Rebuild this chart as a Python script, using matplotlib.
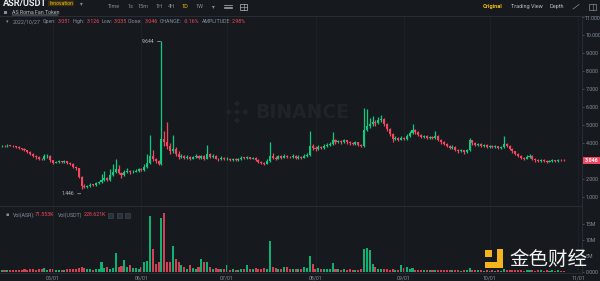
import numpy as np
import pandas as pd
import matplotlib
matplotlib.use('Agg')
import matplotlib.pyplot as plt
import matplotlib.dates as mdates
from matplotlib.patches import Rectangle, Polygon, FancyBboxPatch

# ---------------- data ----------------
start_date = '2022-04-13'
first_open = 3.84
closes = [3.86, 3.84, 3.87, 3.85, 3.83, 3.80, 3.72, 3.68, 3.60, 3.50,
          3.40, 3.30, 3.22, 3.15, 3.12, 3.28, 3.30, 3.05, 2.92, 2.95,
          3.00, 2.96, 3.00, 2.90, 2.85, 2.70, 2.60, 2.15, 1.60, 1.55,
          1.62, 1.70, 1.68, 1.80, 1.85, 1.95, 2.05, 1.95, 2.25, 2.40,
          2.55, 2.35, 2.25, 2.40, 2.45, 2.38, 2.42, 2.48, 2.55, 2.50,
          2.70, 2.90, 3.30, 3.10, 3.00, 2.85, 4.25, 4.05, 3.85, 3.55,
          3.70, 3.40, 3.25, 3.30, 3.20, 3.25, 3.15, 3.22, 3.30, 3.20,
          3.28, 3.15, 3.40, 3.25, 3.30, 3.15, 3.10, 3.20, 3.10, 3.15,
          3.08, 3.12, 3.05, 3.10, 3.20, 3.18, 3.22, 3.15, 3.18, 3.05,
          2.98, 2.90, 2.85, 3.00, 3.30, 3.20, 3.15, 3.28, 3.20, 3.30,
          3.25, 3.22, 3.30, 3.18, 3.25, 3.20, 3.30, 3.35, 3.85, 3.75,
          3.70, 3.80, 3.75, 3.85, 3.90, 3.95, 4.15, 4.05, 4.10, 4.05,
          4.15, 4.05, 4.00, 3.95, 4.05, 3.90, 3.85, 4.75, 4.95, 5.05,
          5.20, 5.10, 5.30, 5.35, 5.05, 4.80, 4.50, 4.25, 4.30, 4.20,
          4.30, 4.25, 4.40, 4.55, 4.75, 4.60, 4.45, 4.35, 4.40, 4.30,
          4.35, 4.30, 4.40, 4.20, 4.05, 3.95, 3.85, 3.75, 3.80, 3.65,
          3.55, 3.60, 3.50, 3.62, 4.15, 4.00, 3.90, 3.95, 3.85, 3.90,
          3.80, 3.85, 3.78, 3.82, 3.75, 3.80, 3.95, 3.85, 3.70, 3.55,
          3.40, 3.30, 3.20, 3.15, 3.25, 3.30, 3.15, 3.05, 3.00, 3.08,
          3.00, 2.98, 3.02, 3.05, 3.02, 3.06, 3.051, 3.046]
highs = [3.92, 3.90, 3.93, 3.91, 3.89, 3.87, 3.84, 3.76, 3.71, 3.64,
         3.55, 3.45, 3.36, 3.27, 3.20, 3.42, 3.38, 3.34, 3.08, 3.02,
         3.06, 3.04, 3.05, 3.03, 2.94, 2.88, 2.75, 2.63, 2.20, 1.72,
         1.70, 1.78, 1.76, 1.86, 1.92, 2.30, 2.45, 2.12, 2.55, 2.85,
         3.10, 2.80, 2.42, 2.50, 2.60, 2.52, 2.50, 2.55, 2.62, 2.60,
         2.85, 3.40, 4.45, 3.65, 3.20, 3.08, 9.644, 4.70, 5.20, 4.00,
         4.45, 3.78, 3.55, 3.40, 3.36, 3.34, 3.30, 3.30, 3.38, 3.35,
         3.36, 3.32, 3.90, 3.48, 3.38, 3.34, 3.20, 3.28, 3.24, 3.22,
         3.18, 3.18, 3.16, 3.16, 3.30, 3.26, 3.30, 3.26, 3.24, 3.22,
         3.10, 3.02, 2.95, 3.10, 4.07, 3.45, 3.28, 3.36, 3.32, 3.38,
         3.36, 3.30, 3.38, 3.34, 3.32, 3.30, 3.40, 3.45, 4.70, 3.95,
         3.82, 3.88, 3.85, 3.95, 4.00, 4.05, 4.60, 4.22, 4.20, 4.15,
         4.25, 4.20, 4.10, 4.05, 4.12, 4.08, 3.95, 5.95, 5.90, 5.40,
         5.50, 5.30, 5.45, 5.55, 5.40, 5.10, 4.85, 4.55, 4.40, 4.35,
         4.38, 4.35, 4.50, 4.65, 5.05, 4.80, 4.65, 4.50, 4.48, 4.45,
         4.42, 4.40, 4.70, 4.45, 4.25, 4.10, 4.00, 3.90, 3.88, 3.85,
         3.70, 3.68, 3.65, 3.70, 4.30, 4.20, 4.05, 4.02, 4.00, 3.96,
         3.94, 3.92, 3.88, 3.88, 3.85, 3.86, 4.40, 4.00, 3.88, 3.72,
         3.58, 3.45, 3.34, 3.25, 3.32, 3.38, 3.34, 3.20, 3.10, 3.15,
         3.12, 3.05, 3.08, 3.12, 3.08, 3.12, 3.10, 3.126]
lows = [3.80, 3.80, 3.81, 3.82, 3.79, 3.76, 3.68, 3.62, 3.55, 3.44,
        3.35, 3.22, 3.15, 3.08, 3.05, 3.08, 3.20, 2.98, 2.85, 2.88,
        2.90, 2.90, 2.92, 2.85, 2.78, 2.62, 2.52, 2.05, 1.446, 1.50,
        1.50, 1.58, 1.62, 1.65, 1.75, 1.82, 1.90, 1.88, 1.92, 2.20,
        2.35, 2.28, 2.05, 2.20, 2.35, 2.30, 2.32, 2.38, 2.42, 2.44,
        2.48, 2.65, 2.85, 3.00, 2.90, 2.78, 2.80, 3.85, 3.70, 3.40,
        3.45, 3.30, 3.15, 3.18, 3.10, 3.14, 3.08, 3.10, 3.18, 3.12,
        3.15, 3.08, 3.12, 3.18, 3.20, 3.10, 3.04, 3.06, 3.05, 3.06,
        3.02, 3.04, 3.00, 3.02, 3.06, 3.12, 3.14, 3.10, 3.10, 3.00,
        2.92, 2.85, 2.78, 2.82, 2.96, 3.12, 3.08, 3.12, 3.14, 3.16,
        3.18, 3.16, 3.18, 3.12, 3.14, 3.14, 3.16, 3.24, 3.30, 3.60,
        3.58, 3.65, 3.68, 3.70, 3.80, 3.85, 3.90, 3.98, 4.00, 3.98,
        4.00, 3.98, 3.92, 3.88, 3.90, 3.82, 3.78, 3.80, 4.65, 4.85,
        4.98, 4.95, 5.05, 5.15, 4.95, 4.70, 4.40, 4.05, 4.15, 4.12,
        4.15, 4.18, 4.20, 4.35, 4.50, 4.50, 4.38, 4.28, 4.30, 4.22,
        4.25, 4.22, 4.25, 4.12, 3.98, 3.88, 3.78, 3.68, 3.70, 3.58,
        3.48, 3.50, 3.42, 3.46, 3.58, 3.92, 3.82, 3.85, 3.80, 3.80,
        3.74, 3.76, 3.72, 3.74, 3.70, 3.70, 3.76, 3.78, 3.62, 3.48,
        3.32, 3.22, 3.12, 3.08, 3.10, 3.20, 3.08, 2.98, 2.94, 2.96,
        2.95, 2.92, 2.94, 2.98, 2.96, 2.98, 3.00, 3.035]
volumes_m = [0.5, 0.4, 0.6, 0.5, 0.4, 0.5, 0.6, 0.5, 0.7, 0.6,
             0.8, 0.7, 0.6, 0.9, 1.0, 1.1, 0.6, 0.9, 0.7, 0.5,
             0.6, 0.5, 0.6, 0.8, 0.7, 0.9, 1.0, 1.2, 1.6, 1.3,
             0.9, 0.8, 0.6, 0.9, 1.0, 3.2, 1.2, 1.5, 1.0, 1.3,
             6.0, 1.5, 1.8, 3.8, 1.5, 2.0, 1.2, 1.2, 1.0, 1.4,
             3.0, 3.5, 17.5, 7.0, 2.5, 3.0, 17.0, 18.5, 3.0, 3.2,
             8.0, 4.0, 3.0, 2.0, 1.5, 1.0, 2.0, 1.2, 1.0, 1.5,
             4.0, 3.0, 3.0, 1.5, 1.0, 1.2, 0.9, 1.0, 0.8, 2.0,
             0.6, 0.7, 0.5, 0.6, 0.8, 0.7, 2.0, 1.0, 0.8, 1.2,
             1.0, 0.9, 1.2, 1.0, 9.5, 1.5, 1.2, 0.8, 0.7, 1.5,
             1.4, 0.8, 1.0, 0.9, 1.0, 1.0, 1.5, 1.3, 5.0, 2.5,
             1.0, 1.1, 0.8, 0.7, 0.8, 0.9, 2.6, 0.8, 0.7, 0.6,
             0.7, 0.6, 0.7, 0.6, 0.5, 0.6, 0.7, 7.0, 7.3, 6.8,
             2.5, 1.5, 1.0, 0.9, 0.8, 0.8, 0.6, 0.9, 0.6, 0.5,
             2.0, 1.2, 1.5, 1.0, 1.2, 0.6, 0.5, 0.4, 0.5, 0.4,
             0.5, 0.4, 0.6, 0.5, 0.4, 0.5, 0.4, 0.5, 0.4, 0.5,
             0.4, 0.3, 0.4, 0.5, 1.2, 0.6, 0.4, 0.5, 0.4, 0.3,
             0.4, 0.3, 0.4, 0.3, 0.4, 0.3, 1.0, 0.5, 0.4, 0.5,
             0.4, 0.5, 0.4, 0.3, 0.4, 0.5, 0.4, 0.3, 0.4, 0.5,
             0.3, 0.4, 0.3, 0.4, 0.3, 0.4, 0.3, 0.07]
price_ticks = [1, 2, 3, 4, 5, 6, 7, 8, 9, 10, 11]
vol_ticks = [0, 5, 10, 15]
vol_tick_labels = ['0.000', '5M', '10M', '15M']
month_ticks = ['2022-05-01', '2022-06-01', '2022-07-01', '2022-08-01',
               '2022-09-01', '2022-10-01', '2022-11-01']
month_labels = ['05/01', '06/01', '07/01', '08/01', '09/01', '10/01', '11/01']
last_price = 3.046
high_mark = 9.644
low_mark = 1.446

# ---------------- style ----------------
BG = '#161a1e'
UP = '#0ecb81'
DN = '#f6465d'
TXT = '#848e9c'
LINE = '#2b3139'
GRID = '#1f2329'
YEL = '#f0b90b'
plt.rcParams['font.family'] = ['Roboto', 'DejaVu Sans']

W, H = 600, 281
fig = plt.figure(figsize=(6, 2.81), dpi=100)
fig.patch.set_facecolor(BG)

def fx(px):
    return px / W

def fy(py):
    return 1 - py / H

dates = pd.date_range(start_date, periods=len(closes), freq='D')
xd = mdates.date2num(dates)
opens = [first_open] + closes[:-1]
o = np.array(opens); c = np.array(closes); h = np.array(highs); l = np.array(lows)
up = c >= o
cols = np.where(up, UP, DN)
d0 = xd[0]
xlim = (d0 - 0.578, d0 + 203.4)
mt = mdates.date2num(pd.to_datetime(month_ticks))
YLO, YHI = 0.517, 11.055

# background watermark axes
under = fig.add_axes([0, 0, 1, 1], zorder=0)
under.set_xlim(0, W); under.set_ylim(H, 0); under.axis('off')
under.text(255, 112.5, 'BINANCE', fontsize=13.5, fontweight='bold', color='#202429',
           va='center', ha='left', family='DejaVu Sans')
for (cx, cy, r) in [(237, 112, 3.2), (237, 103.5, 3.2), (237, 120.5, 3.2),
                    (228.5, 112, 3.2), (245.5, 112, 3.2)]:
    under.add_patch(Polygon([(cx - r, cy), (cx, cy - r), (cx + r, cy), (cx, cy + r)],
                            closed=True, color='#202429', lw=0))

# price axes
ax = fig.add_axes([0, fy(206), fx(582), (206 - 16) / H], zorder=1)
ax.set_facecolor('none')
wicks = ax.vlines(xd, l, h, color=cols, lw=0.9, zorder=2)
wicks.set_snap(True)
body_h = np.maximum(np.abs(c - o), 0.03)
ax.bar(xd, body_h, bottom=np.minimum(o, c), width=0.72, color=cols, lw=0, zorder=3)
ax.set_xlim(*xlim)
ax.set_ylim(YLO, YHI)
ax.set_xticks(mt)
ax.set_xticklabels([])
ax.tick_params(axis='x', length=0)
ax.grid(axis='x', color=GRID, lw=0.6)
ax.yaxis.tick_right()
ax.set_yticks(price_ticks)
# the 3.000 label sits under the current-price box in the reference, 11.000 drawn by hand
ax.set_yticklabels(['' if t in (3, 11) else '{:.3f}'.format(t) for t in price_ticks])
ax.tick_params(axis='y', direction='out', length=1.5, width=0.5, color='#5e6673',
               labelsize=3.8, labelcolor=TXT, pad=1.2)
for s in ['top', 'left', 'bottom']:
    ax.spines[s].set_visible(False)
ax.spines['right'].set_color(LINE)
ax.spines['right'].set_linewidth(0.6)

# high / low markers
i_hi = int(np.argmax(h)); i_lo = int(np.argmin(l))
ax.annotate('{:.3f}'.format(high_mark), xy=(xd[i_hi] - 0.3, high_mark),
            xytext=(xd[i_hi] - 2.6, high_mark), fontsize=3.6, color='#b7bdc6',
            va='center', ha='right',
            arrowprops=dict(arrowstyle='-', color='#b7bdc6', lw=0.5, shrinkA=0.5, shrinkB=0))
ax.annotate('{:.3f}'.format(low_mark), xy=(xd[i_lo] - 0.3, low_mark - 0.25),
            xytext=(xd[i_lo] - 2.6, low_mark - 0.25), fontsize=3.6, color='#b7bdc6',
            va='center', ha='right',
            arrowprops=dict(arrowstyle='-', color='#b7bdc6', lw=0.5, shrinkA=0.5, shrinkB=0))

# volume axes
vax = fig.add_axes([0, fy(273), fx(582), (273 - 206) / H], zorder=1)
vax.set_facecolor('none')
vax.bar(xd, volumes_m, width=0.72, color=cols, lw=0, alpha=0.85)
vax.set_xlim(*xlim)
vax.set_ylim(-0.41, 20.66)
vax.set_xticks(mt)
vax.set_xticklabels(month_labels)
vax.tick_params(axis='x', length=0, labelsize=3.8, labelcolor=TXT, pad=1.6)
vax.grid(axis='x', color=GRID, lw=0.6)
vax.yaxis.tick_right()
vax.set_yticks(vol_ticks)
vax.set_yticklabels(vol_tick_labels)
vax.tick_params(axis='y', direction='out', length=1.5, width=0.5, color='#5e6673',
                labelsize=3.8, labelcolor=TXT, pad=1.2)
for s in ['top', 'left']:
    vax.spines[s].set_visible(False)
vax.spines['bottom'].set_color(LINE); vax.spines['bottom'].set_linewidth(0.5)
vax.spines['right'].set_color(LINE); vax.spines['right'].set_linewidth(0.6)

# overlay axes for header and texts
ov = fig.add_axes([0, 0, 1, 1], zorder=5)
ov.set_xlim(0, W); ov.set_ylim(H, 0); ov.axis('off')
ov.patch.set_alpha(0)
ov.plot([0, 600], [16.3, 16.3], color=LINE, lw=0.6)
ov.plot([0, 582], [206, 206], color=LINE, lw=0.6)

# 11.000 tick label at the very top of the price scale
py11 = 206 - (11 - YLO) / (YHI - YLO) * 190
ov.text(584.5, py11 + 1.2, '{:.3f}'.format(11), fontsize=3.8, color=TXT, va='center', ha='left')

# current price box
py_last = 206 - (last_price - YLO) / (YHI - YLO) * 190
ov.add_patch(Rectangle((582.5, py_last - 3.3), 17.5, 6.6, fc=DN, ec='none'))
ov.text(591.2, py_last, '{:.3f}'.format(last_price), fontsize=3.8, color='white',
        fontweight='bold', va='center', ha='center')

ov.text(3, 4, 'ASR/USDT', fontsize=6.6, fontweight='bold', color='#eaecef', va='center', ha='left')
ov.add_patch(FancyBboxPatch((48, 0.6), 26, 5.6, boxstyle='round,pad=0,rounding_size=0.8',
                            fc='#3c3213', ec='none'))
ov.text(61, 3.5, 'Innovation', fontsize=3.7, color=YEL, va='center', ha='center')
ov.text(81, 3.8, '▾', fontsize=4, color=TXT, va='center', ha='center', family='DejaVu Sans')

tf = [('Time', 108, TXT), ('1s', 127, TXT), ('15m', 138, TXT), ('1H', 156, TXT),
      ('4H', 168, TXT), ('1D', 182, YEL), ('1W', 195, TXT)]
for s, x, col in tf:
    ov.text(x, 6.7, s, fontsize=4.0, color=col, va='center', ha='left')
ov.text(213, 6.7, '▾', fontsize=4, color=TXT, va='center', ha='center', family='DejaVu Sans')
for yy in (5.3, 6.7, 8.1):
    ov.plot([224, 232], [yy, yy], color='#b7bdc6', lw=0.5)
ov.add_patch(Rectangle((240, 3.7), 7, 6, fc='none', ec='#b7bdc6', lw=0.5))
ov.plot([243.5, 243.5], [3.7, 9.7], color='#b7bdc6', lw=0.4)
ov.plot([240, 247], [6.7, 6.7], color='#b7bdc6', lw=0.4)

ov.text(483, 6.7, 'Original', fontsize=4.1, color=YEL, va='center', ha='left', fontweight='bold')
ov.text(511, 6.7, 'Trading View', fontsize=4.0, color='#b7bdc6', va='center', ha='left')
ov.text(549, 6.7, 'Depth', fontsize=4.0, color='#b7bdc6', va='center', ha='left')
ov.plot([573, 579], [9, 4.5], color=TXT, lw=0.5)
ov.add_patch(Rectangle((589, 3.8), 7, 6, fc='none', ec=TXT, lw=0.5))
ov.plot([592.5, 592.5], [3.8, 9.8], color=TXT, lw=0.4)

ov.add_patch(Rectangle((4.2, 11.3), 2.8, 2.8, fc=TXT, ec='none'))
ov.text(12, 12.7, 'AS Roma Fan Token', fontsize=3.8, color='#b7bdc6', va='center', ha='left')
ov.plot([12, 57.5], [15, 15], color='#b7bdc6', lw=0.35)

ov.text(7, 21.7, '▾', fontsize=3.6, color=TXT, va='center', ha='center', family='DejaVu Sans')
info = [('2022/10/27', 13, TXT), ('Open:', 43, TXT), ('3.051', 58, DN),
        ('High:', 73, TXT), ('3.126', 87, DN), ('Low:', 102, TXT), ('3.035', 114, DN),
        ('Close:', 128, TXT), ('3.046', 145, DN), ('CHANGE:', 160, TXT),
        ('-0.16%', 184, DN), ('AMPLITUDE:', 202, TXT), ('2.98%', 232, DN)]
for s, x, col in info:
    ov.text(x, 21.7, s, fontsize=3.8, color=col, va='center', ha='left')

ov.text(7, 215, '▪', fontsize=3.6, color=TXT, va='center', ha='center', family='DejaVu Sans')
vinfo = [('Vol(ASR):', 13, TXT), ('71.553K', 35, DN), ('Vol(USDT)', 58, TXT), ('228.621K', 84, DN)]
for s, x, col in vinfo:
    ov.text(x, 215, s, fontsize=3.8, color=col, va='center', ha='left')
for bx in (108, 116.5, 125):
    ov.add_patch(Rectangle((bx, 212.5), 5, 5, fc='#2b3139', ec='#474d57', lw=0.4))

# 金色财经 watermark
GOLD = '#f3b51b'
ov.add_patch(Rectangle((485, 250), 7, 7, fc=GOLD, ec='none'))
ov.add_patch(Rectangle((497, 249), 6, 19, fc=GOLD, ec='none'))
ov.add_patch(Rectangle((485, 262), 18, 6, fc=GOLD, ec='none'))
ov.text(509, 259, '金色财经', fontsize=14, color='#f2f2f2', va='center', ha='left',
        family=['Noto Sans CJK SC', 'DejaVu Sans'])

fig.savefig('out.png', dpi=100, facecolor=BG)
